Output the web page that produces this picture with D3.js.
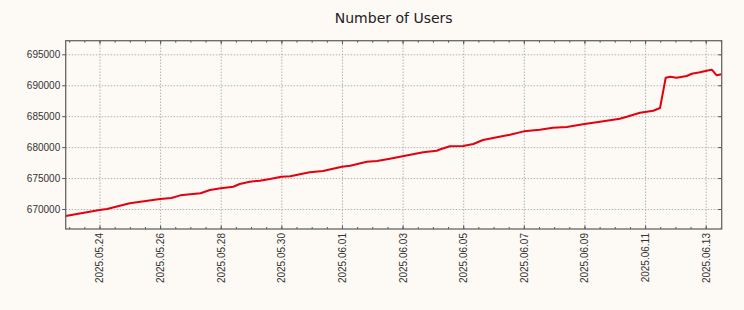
<html>
<head>
<script src="https://d3js.org/d3.v7.min.js"></script>
<style>
  body { margin: 0; background: #fdf9f5; }
  svg { font-family: "DejaVu Sans", sans-serif; }
  .grid line { stroke: #b4b4b4; stroke-dasharray: 1.5,1.5; }
  .grid .domain { stroke: none; }
  .ax .domain { stroke: none; }
  .ax line { stroke: #555; }
  .ax text { fill: #333; font-size: 10px; }
</style>
</head>
<body>
<script>
// readings from the picture (UTC)
const times = [
  "2025-05-22 21:15", "2025-05-24 00:00", "2025-05-24 06:00", "2025-05-25 00:00",
  "2025-05-26 00:00", "2025-05-26 09:00", "2025-05-26 16:00", "2025-05-27 08:00",
  "2025-05-27 15:30", "2025-05-28 00:00", "2025-05-28 10:00", "2025-05-28 15:00",
  "2025-05-28 23:00", "2025-05-29 07:00", "2025-05-29 15:00", "2025-05-30 00:00",
  "2025-05-30 07:00", "2025-05-30 22:30", "2025-05-31 09:00", "2025-06-01 00:00",
  "2025-06-01 06:30", "2025-06-01 19:40", "2025-06-02 03:40", "2025-06-02 14:00",
  "2025-06-03 00:00", "2025-06-03 16:20", "2025-06-04 03:00", "2025-06-04 06:00",
  "2025-06-04 13:30", "2025-06-05 00:00", "2025-06-05 08:00", "2025-06-05 15:40",
  "2025-06-06 07:40", "2025-06-06 13:00", "2025-06-07 00:00", "2025-06-07 12:40",
  "2025-06-07 23:00", "2025-06-08 10:00", "2025-06-09 00:00", "2025-06-09 12:20",
  "2025-06-10 04:00", "2025-06-10 09:30", "2025-06-10 20:00", "2025-06-11 06:30",
  "2025-06-11 11:50", "2025-06-11 16:20", "2025-06-11 20:00", "2025-06-12 01:00",
  "2025-06-12 09:00", "2025-06-12 13:00", "2025-06-12 19:30", "2025-06-13 00:45",
  "2025-06-13 04:50", "2025-06-13 08:40", "2025-06-13 12:40"
];
const users = [
  668870, 669840, 670000, 670920,
  671615, 671780, 672210, 672540,
  673070, 673340, 673600, 674040,
  674410, 674580, 674850, 675220,
  675280, 675930, 676140, 676840,
  677000, 677650, 677760, 678130,
  678510, 679160, 679420, 679650,
  680130, 680180, 680500, 681150,
  681800, 682000, 682550, 682820,
  683140, 683250, 683740, 684110,
  684590, 684900, 685560, 685880,
  686320, 691220, 691380, 691220,
  691490, 691860, 692090, 692350,
  692510, 691600, 691770
];
const yTicks = [670000, 675000, 680000, 685000, 690000, 695000];
const xTickDays = [
  "2025-05-24", "2025-05-26", "2025-05-28", "2025-05-30", "2025-06-01", "2025-06-03",
  "2025-06-05", "2025-06-07", "2025-06-09", "2025-06-11", "2025-06-13"
];
const yRange = [666770, 697200];

const parseT = d3.utcParse("%Y-%m-%d %H:%M");
const parseD = d3.utcParse("%Y-%m-%d");
const df = times.map((t, i) => ({date: parseT(t), value: users[i]}));
const xTicks = xTickDays.map(parseD);

const width = 744, height = 310;
const margins = {top: 40.7, right: 22.3, bottom: 81, left: 65.7};
const chartWidth = width - margins.left - margins.right;
const chartHeight = height - margins.top - margins.bottom;

let svg = d3.select('body').append('svg')
  .attr('width', width)
  .attr('height', height);

svg.append('text')
  .attr('x', margins.left + chartWidth / 2)
  .attr('y', 23)
  .attr('text-anchor', 'middle')
  .attr('font-size', 14)
  .attr('fill', '#222')
  .text('Number of Users');

let chart = svg.append('g')
  .attr('transform', `translate(${margins.left},${margins.top})`);

let xScale = d3.scaleUtc()
  .domain(d3.extent(df, d => d.date))
  .range([0, chartWidth]);
let yScale = d3.scaleLinear()
  .domain(yRange)
  .range([chartHeight, 0]);

const minorTicks = d3.utcHour.every(12).range(xScale.domain()[0], xScale.domain()[1]);

// gridlines
chart.append('g').attr('class', 'grid')
  .call(d3.axisLeft(yScale).tickValues(yTicks).tickFormat('').tickSize(-chartWidth));
chart.append('g').attr('class', 'grid')
  .attr('transform', `translate(0,${chartHeight})`)
  .call(d3.axisBottom(xScale).tickValues(xTicks).tickFormat('').tickSize(-chartHeight));

// line
chart.append('path')
  .datum(df)
  .attr('fill', 'none')
  .attr('stroke', '#e3000f')
  .attr('stroke-width', 2)
  .attr('stroke-linejoin', 'round')
  .attr('d', d3.line().x(d => xScale(d.date)).y(d => yScale(d.value)));

// y axis left (labels, outward ticks)
chart.append('g').attr('class', 'ax')
  .call(d3.axisLeft(yScale).tickValues(yTicks).tickFormat(d3.format('d')).tickSize(3.5).tickPadding(2));
// right ticks inward
chart.append('g').attr('class', 'ax')
  .attr('transform', `translate(${chartWidth},0)`)
  .call(d3.axisLeft(yScale).tickValues(yTicks).tickFormat('').tickSize(3.5));

// top ticks inward
chart.append('g').attr('class', 'ax')
  .call(d3.axisBottom(xScale).tickValues(minorTicks).tickFormat('').tickSize(2));
chart.append('g').attr('class', 'ax')
  .call(d3.axisBottom(xScale).tickValues(xTicks).tickFormat('').tickSize(3.5));

// bottom ticks inward
chart.append('g').attr('class', 'ax')
  .attr('transform', `translate(0,${chartHeight})`)
  .call(d3.axisTop(xScale).tickValues(minorTicks).tickFormat('').tickSize(2));
let bottom = chart.append('g').attr('class', 'ax')
  .attr('transform', `translate(0,${chartHeight})`)
  .call(d3.axisTop(xScale).tickValues(xTicks).tickFormat('').tickSize(3.5));

// bottom labels, rotated
let xLabels = chart.append('g').attr('class', 'ax')
  .attr('transform', `translate(0,${chartHeight})`)
  .call(d3.axisBottom(xScale).tickValues(xTicks).tickFormat(d3.utcFormat('%Y.%m.%d')).tickSize(0));
xLabels.selectAll('text')
  .attr('transform', 'rotate(-90)')
  .attr('x', -4)
  .attr('y', 0)
  .attr('dy', '0.35em')
  .style('text-anchor', 'end');

// frame
chart.append('rect')
  .attr('width', chartWidth)
  .attr('height', chartHeight)
  .attr('fill', 'none')
  .attr('stroke', '#666')
  .attr('stroke-width', 1.3);
</script>
</body>
</html>
